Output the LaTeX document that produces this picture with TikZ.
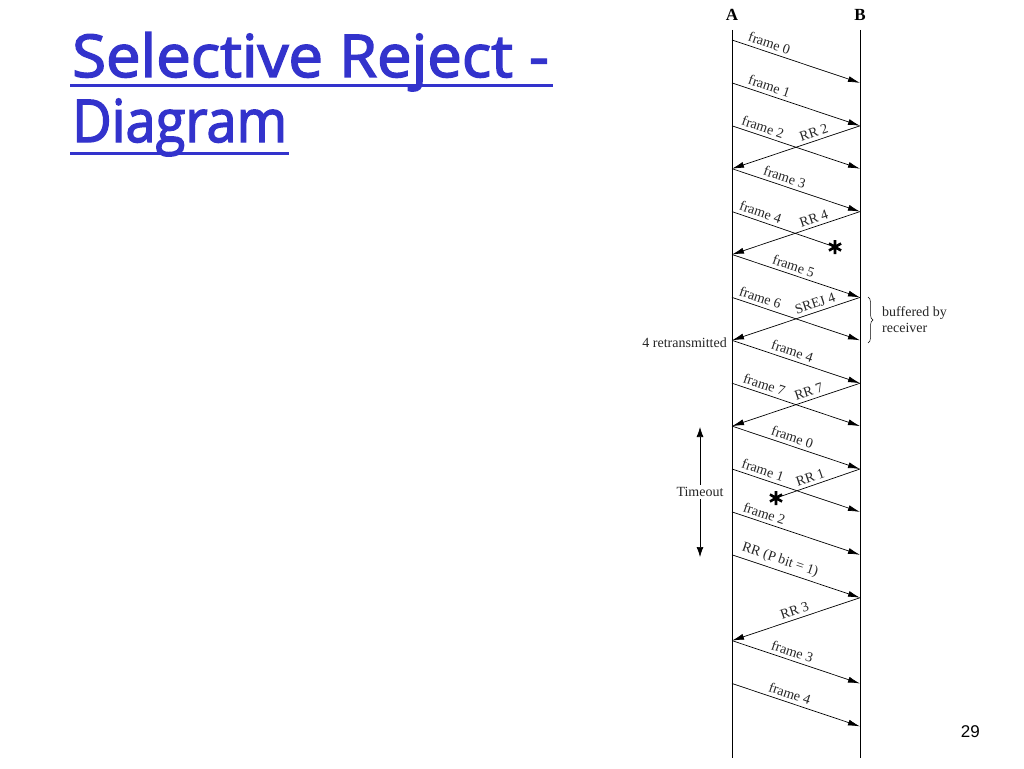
\documentclass[tikz,border=0pt]{standalone}
\usepackage{fontspec}
\setmainfont{Liberation Serif}
\newfontfamily\titlefont[FakeBold=2.5]{Open Sans}
\newfontfamily\numfont{Liberation Sans}
\usetikzlibrary{arrows.meta,decorations.pathreplacing}

\definecolor{titleblue}{RGB}{51,51,204}

\tikzset{
  msg/.style={-{Latex[length=12pt,width=6pt]}, line width=0.7pt},
  lostmsg/.style={line width=0.7pt},
  lostmark/.style={line width=2.6pt},
  lbl/.style={font=\fontsize{14}{16}\selectfont, text=black!85, sloped, above, inner sep=3.5pt},
  note/.style={font=\fontsize{14}{16}\selectfont, text=black!85, inner sep=1pt},
  station/.style={font=\bfseries\fontsize{17}{20}\selectfont},
  titletext/.style={font=\titlefont\fontsize{59}{70}\selectfont, text=titleblue, inner sep=0pt},
  uline/.style={titleblue, line width=3pt}
}

\begin{document}
\begin{tikzpicture}[x=1pt, y=1pt]
    \fill[white] (0,0) rectangle (1024,-768);
    \useasboundingbox (0,0) rectangle (1024,-768);

    % title
    \node[titletext, anchor=base west, xscale=1.045] (title1) at (72,-77) {Selective Reject -};
    \node[titletext, anchor=base west, xscale=0.92] (title2) at (72,-142) {Diagram};
    \draw[uline] ([xshift=-2pt,yshift=-8pt]title1.base west) -- ([xshift=4pt,yshift=-8pt]title1.base east);
    \draw[uline] ([xshift=-2pt,yshift=-11pt]title2.base west) -- ([xshift=2pt,yshift=-11pt]title2.base east);

    % stations
    \node[station] (A) at (732,-15) {A};
    \node[station] (B) at (860,-15) {B};
    \coordinate (atop) at (732,-30);
    \coordinate (abot) at (732,-758);
    \coordinate (btop) at (860,-30);
    \coordinate (bbot) at (860,-758);
    \draw[line width=0.8pt] (atop) -- (abot);
    \draw[line width=0.8pt] (btop) -- (bbot);

    \foreach \k in {0,...,16} {
        \coordinate (a\k) at (732,-40-42.9*\k);
        \coordinate (b\k) at (860,-40-42.9*\k);
    }
    \coordinate (lost1) at (835,-247);
    \coordinate (lost2) at (776,-498);

    % frames A -> B
    \draw[msg] (a0) -- node[lbl, pos=.27] {frame 0} (b1);
    \draw[msg] (a1) -- node[lbl, pos=.27] {frame 1} (b2);
    \draw[msg] (a2) -- node[lbl, pos=.22] {frame 2} (b3);
    \draw[msg] (a3) -- node[lbl, pos=.39] {frame 3} (b4);
    \draw[lostmsg] (a4) -- node[lbl, pos=.25] {frame 4} (lost1);
    \draw[msg] (a5) -- node[lbl, pos=.46] {frame 5} (b6);
    \draw[msg] (a6) -- node[lbl, pos=.2] {frame 6} (b7);
    \draw[msg] (a7) -- node[lbl, pos=.45] {frame 4} (b8);
    \draw[msg] (a8) -- node[lbl, pos=.23] {frame 7} (b9);
    \draw[msg] (a9) -- node[lbl, pos=.45] {frame 0} (b10);
    \draw[msg] (a10) -- node[lbl, pos=.22] {frame 1} (b11);
    \draw[msg] (a11) -- node[lbl, pos=.23] {frame 2} (b12);
    \draw[msg] (a12) -- node[lbl, pos=.35] {RR (P bit = 1)} (b13);
    \draw[msg] (a14) -- node[lbl, pos=.45] {frame 3} (b15);
    \draw[msg] (a15) -- node[lbl, pos=.43] {frame 4} (b16);

    % replies B -> A
    \draw[msg] (b2) -- node[lbl, pos=.34] {RR 2} (a3);
    \draw[msg] (b4) -- node[lbl, pos=.34] {RR 4} (a5);
    \draw[msg] (b6) -- node[lbl, pos=.33] {SREJ 4} (a7);
    \draw[msg] (b8) -- node[lbl, pos=.38] {RR 7} (a9);
    \draw[lostmsg] (b10) -- node[lbl, pos=.56] {RR 1} (lost2);
    \draw[msg] (b13) -- node[lbl, pos=.49] {RR 3} (a14);

    % lost frames
    \draw[lostmark] (lost1) ++(90:7pt) -- ++(270:14pt) (lost1) ++(30:7pt) -- ++(210:14pt) (lost1) ++(150:7pt) -- ++(330:14pt);
    \draw[lostmark] (lost2) ++(90:7pt) -- ++(270:14pt) (lost2) ++(30:7pt) -- ++(210:14pt) (lost2) ++(150:7pt) -- ++(330:14pt);

    % notes
    \coordinate (br1) at (868,-297);
    \coordinate (br2) at (868,-343);
    \draw[decorate, decoration={brace, amplitude=5pt}, line width=0.5pt] (br1) -- (br2);
    \node[note, anchor=west, align=left] (buf) at (881,-320) {buffered by\\receiver};
    \node[note, anchor=east] (retx) at (728,-343) {4 retransmitted};

    \coordinate (t1) at (700,-427);
    \coordinate (t2) at (700,-557);
    \draw[{Latex[length=10pt,width=7pt]}-{Latex[length=10pt,width=7pt]}, line width=0.7pt] (t1) -- node[note, fill=white, inner sep=2pt] (tmo) {Timeout} (t2);

    \node[font=\numfont\fontsize{17}{20}\selectfont, anchor=east, inner sep=0pt] (pnum) at (980,-732) {29};

\end{tikzpicture}
\end{document}
